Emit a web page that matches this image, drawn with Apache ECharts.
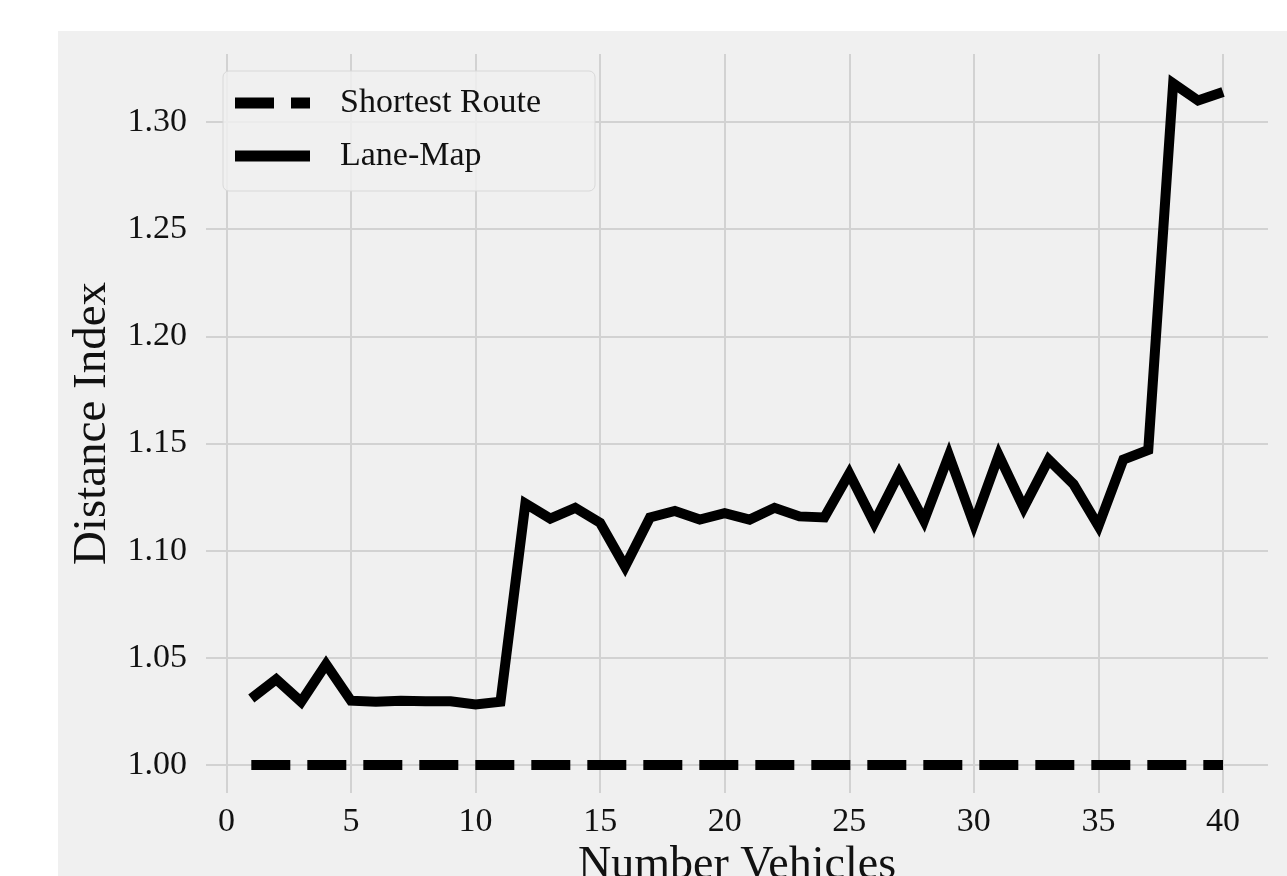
<!DOCTYPE html>
<html>
<head>
<meta charset="utf-8">
<script src="https://cdn.jsdelivr.net/npm/echarts@6/dist/echarts.min.js"></script>
<style>
html,body{margin:0;padding:0;background:#fff;}
#chart{width:1287px;height:876px;}
</style>
</head>
<body>
<div id="chart"></div>
<script>
const vehicles = [1,2,3,4,5,6,7,8,9,10,11,12,13,14,15,16,17,18,19,20,21,22,23,24,25,26,27,28,29,30,31,32,33,34,35,36,37,38,39,40];
const shortestRoute = [1,1,1,1,1,1,1,1,1,1,1,1,1,1,1,1,1,1,1,1,1,1,1,1,1,1,1,1,1,1,1,1,1,1,1,1,1,1,1,1];
const laneMap = [1.031,1.040,1.0295,1.047,1.030,1.0295,1.030,1.0297,1.0297,1.0282,
                 1.0295,1.122,1.115,1.120,1.113,1.0925,1.1155,1.1185,1.1145,1.1175,
                 1.1145,1.120,1.116,1.1155,1.136,1.113,1.136,1.114,1.1445,1.1125,
                 1.1445,1.120,1.1425,1.131,1.1115,1.1425,1.147,1.318,1.310,1.314];
const seriesNames = ['Shortest Route','Lane-Map'];
const xTicks = {min:0, max:40, interval:5};
const yTicks = {min:1.00, max:1.30, interval:0.05};
const xTitle = 'Number Vehicles';
const yTitle = 'Distance Index';

const FONT = 'Liberation Serif';
const GRIDC = '#d2d2d2';

// plot-area extents (axes box) vs tick-aligned grids
const yFull = {min:0.98694, max:1.33173};
const xFull = {min:-0.819, max:41.806};

const chart = echarts.init(document.getElementById('chart'), null, {renderer:'canvas'});
chart.setOption({
  backgroundColor:'#ffffff',
  animation:false,
  graphic:[{type:'rect', z:-100, silent:true, shape:{x:58,y:31,width:1240,height:860}, style:{fill:'#f0f0f0'}}],
  grid:[
    {left:226.4, right:64, top:54, bottom:83, outerBoundsMode:'none', containLabel:false},
    {left:206, right:19, top:122, bottom:111, outerBoundsMode:'none', containLabel:false}
  ],
  xAxis:[
    {type:'value', gridIndex:0, min:xTicks.min, max:xTicks.max, interval:xTicks.interval,
     axisLine:{show:false}, axisTick:{show:false},
     axisLabel:{fontFamily:FONT, fontSize:34, color:'#111', margin:12},
     splitLine:{show:true, lineStyle:{color:GRIDC, width:2}}},
    {type:'value', gridIndex:1, min:xFull.min, max:xFull.max,
     axisLine:{show:false}, axisTick:{show:false}, axisLabel:{show:false}, splitLine:{show:false},
     name:xTitle, nameLocation:'middle', nameGap:78,
     nameTextStyle:{fontFamily:FONT, fontSize:46, color:'#111'}}
  ],
  yAxis:[
    {type:'value', gridIndex:0, min:yFull.min, max:yFull.max,
     axisLine:{show:false}, axisTick:{show:false}, axisLabel:{show:false}, splitLine:{show:false},
     name:yTitle, nameLocation:'middle', nameGap:110,
     nameTextStyle:{fontFamily:FONT, fontSize:47, color:'#111'}},
    {type:'value', gridIndex:1, min:yTicks.min, max:yTicks.max, interval:yTicks.interval,
     axisLine:{show:false}, axisTick:{show:false},
     axisLabel:{fontFamily:FONT, fontSize:34, color:'#111', margin:19, formatter:v=>v.toFixed(2)},
     splitLine:{show:true, lineStyle:{color:GRIDC, width:2}}}
  ],
  legend:{
    left:223, top:71, orient:'vertical',
    data:[
      {name:seriesNames[0], icon:'path://M0,0H39V11H0Z M56,0H75V11H56Z'},
      {name:seriesNames[1], icon:'rect'}
    ],
    itemWidth:75, itemHeight:11, itemGap:13,
    itemStyle:{color:'#000', borderWidth:0},
    backgroundColor:'rgba(240,240,240,0.85)', borderColor:'#d8d8d8', borderWidth:1, borderRadius:6,
    padding:[12,18,15,12],
    textStyle:{fontFamily:FONT, fontSize:34, color:'#111', lineHeight:40, padding:[0,0,0,25], width:237}
  },
  series:[
    {name:seriesNames[0], type:'line', xAxisIndex:0, yAxisIndex:0, symbol:'none', clip:false,
     data:vehicles.map((v,i)=>[v, shortestRoute[i]]),
     lineStyle:{color:'#000', width:10, type:[39,17], cap:'butt'}, itemStyle:{color:'#000'}},
    {name:seriesNames[1], type:'line', xAxisIndex:0, yAxisIndex:0, symbol:'none', clip:false,
     data:vehicles.map((v,i)=>[v, laneMap[i]]),
     lineStyle:{color:'#000', width:10, cap:'butt', join:'miter'}, itemStyle:{color:'#000'}}
  ]
});
</script>
</body>
</html>
